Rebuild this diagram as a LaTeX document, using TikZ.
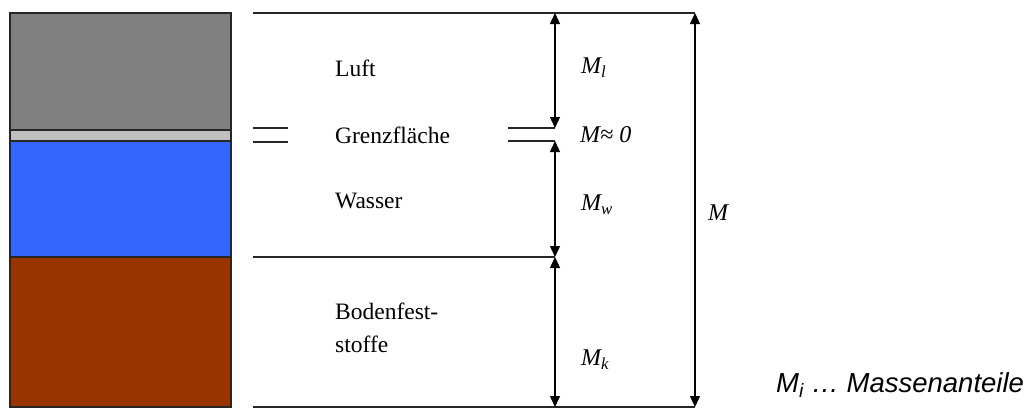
\documentclass[tikz,border=0pt]{standalone}
\usepackage{fontspec}
\setmainfont{Liberation Serif}
\newfontfamily\arialfont{Liberation Sans}
\usetikzlibrary{arrows.meta}
\definecolor{luftgray}{RGB}{128,128,128}
\definecolor{grenzgray}{RGB}{192,192,192}
\definecolor{wasserblue}{RGB}{51,102,255}
\definecolor{bodenbrown}{RGB}{153,51,0}
\tikzset{
  layer/.style={draw=black!85, line width=1.2pt},
  rule/.style={draw=black!85, line width=1.3pt},
  dimboth/.style={draw=black, line width=1.3pt, {Triangle[length=11pt,width=10pt]}-{Triangle[length=11pt,width=10pt]}},
  lbl/.style={anchor=west, inner sep=0pt, font=\fontsize{23.5}{33}\selectfont},
  mlbl/.style={anchor=west, inner sep=0pt, font=\fontsize{24}{28}\selectfont\itshape}
}
\begin{document}
\begin{tikzpicture}[x=1pt,y=-1pt]
\useasboundingbox (0,0) rectangle (1029,410);
% layers
\path[layer, fill=luftgray] (10,13) rectangle (231,130);
\path[layer, fill=grenzgray] (10,130) rectangle (231,141);
\path[layer, fill=wasserblue] (10,141) rectangle (231,257);
\path[layer, fill=bodenbrown] (10,257) rectangle (231,407);
% coordinates
\coordinate (tl) at (253,13);
\coordinate (ta) at (555,13);
\coordinate (tr) at (695,13);
\coordinate (g1l) at (253,128);
\coordinate (g1r) at (288,128);
\coordinate (g2l) at (253,142);
\coordinate (g2r) at (288,142);
\coordinate (h1l) at (508,128);
\coordinate (h1r) at (555,128);
\coordinate (h2l) at (508,141);
\coordinate (h2r) at (555,141);
\coordinate (wl) at (253,257);
\coordinate (wr) at (555,257);
\coordinate (bl) at (253,407);
\coordinate (ba) at (555,407);
\coordinate (br) at (695,407);
% horizontal rules
\draw[rule] (tl) -- (tr);
\draw[rule] (g1l) -- (g1r);
\draw[rule] (g2l) -- (g2r);
\draw[rule] (h1l) -- (h1r);
\draw[rule] (h2l) -- (h2r);
\draw[rule] (wl) -- (wr);
\draw[rule] (bl) -- (br);
% dimension arrows
\draw[dimboth] (ta) -- (h1r);
\draw[dimboth] (h2r) -- (wr);
\draw[dimboth] (wr) -- (ba);
\draw[dimboth] (tr) -- (br);
% labels
\node[lbl] (luft) at (335,68) {Luft};
\node[lbl] (grenz) at (335,135) {Grenzfläche};
\node[lbl] (wasser) at (335,201) {Wasser};
\node[lbl, align=left] (boden) at (335,328) {Bodenfest-\\stoffe};
\node[mlbl] (ml) at (581,68) {M\textsubscript{l}};
\node[mlbl] (m0) at (580,135) {M≈ 0};
\node[mlbl] (mw) at (581,205) {M\textsubscript{w}};
\node[mlbl] (mk) at (581,360) {M\textsubscript{k}};
\node[mlbl] (m) at (708,213) {M};
\node[anchor=west, inner sep=0pt, font=\arialfont\itshape\fontsize{27.5}{32}\selectfont] (mi) at (776,385) {M\textsubscript{i} … Massenanteile};
\end{tikzpicture}
\end{document}
